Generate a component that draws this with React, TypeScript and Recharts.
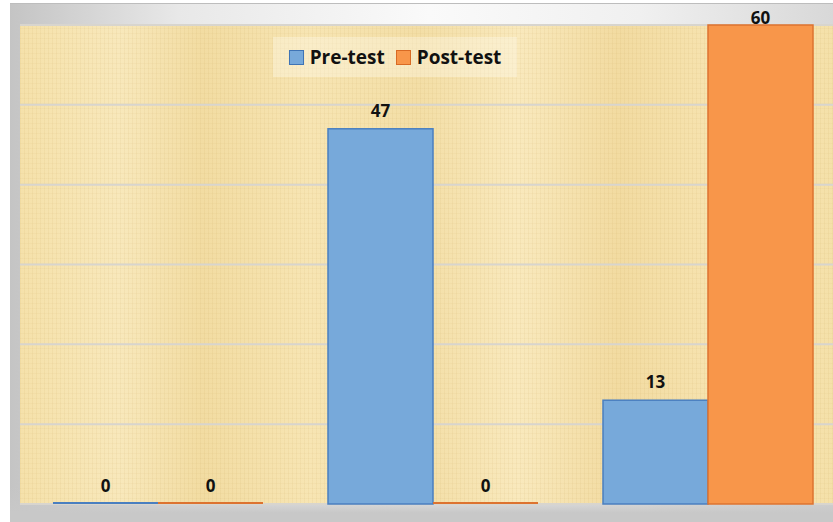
import React from 'react';
import { BarChart, Bar, XAxis, YAxis, CartesianGrid, LabelList, Legend } from 'recharts';

const categories = ['Group 1', 'Group 2', 'Group 3'];
const preTest = [0, 47, 13];
const postTest = [0, 0, 60];
const yTicks = [0, 10, 20, 30, 40, 50, 60];

const data = categories.map((c, i) => ({ name: c, pre: preTest[i], post: postTest[i] }));

const BarShape = (props: any) => {
  const { x, y, width, height, fill, stroke } = props;
  if (!height || Math.abs(height) < 1) {
    return <line x1={x} x2={x + width} y1={y - 1} y2={y - 1} stroke={stroke} strokeWidth={2} />;
  }
  return <rect x={x} y={y} width={width} height={height} fill={fill} stroke={stroke} strokeWidth={1.5} />;
};

const LegendContent = () => (
  <div
    style={{
      width: 244,
      height: 40,
      background: 'rgba(255,252,240,0.35)',
      display: 'flex',
      alignItems: 'center',
      justifyContent: 'center',
      fontFamily: '"Open Sans", sans-serif',
      fontWeight: 700,
      fontSize: 19,
      color: '#111',
    }}
  >
    <span style={{ display: 'inline-block', width: 13, height: 13, background: '#77a9da', border: '1.5px solid #3f74b5', marginRight: 6 }} />
    <span style={{ marginRight: 11 }}>Pre-test</span>
    <span style={{ display: 'inline-block', width: 13, height: 13, background: '#f8964a', border: '1.5px solid #d86a24', marginRight: 6 }} />
    <span>Post-test</span>
  </div>
);

const ValueLabel = (props: any) => {
  const { x, y, width, value } = props;
  const ty = Math.max(y - 12, 24);
  return (
    <text
      x={x + width / 2}
      y={ty}
      textAnchor="middle"
      style={{ fontFamily: '"Open Sans", sans-serif', fontWeight: 700, fontSize: 17, fill: '#111' }}
    >
      {value}
    </text>
  );
};

export default function App() {
  return (
    <div style={{ position: 'fixed', left: 0, top: 0, width: 833, height: 522, overflow: 'hidden', background: '#fff' }}>
      <div
        style={{
          position: 'absolute',
          left: 10,
          top: 3,
          width: 840,
          height: 519,
          borderTop: '1px solid #bdbdbd',
          background:
            'linear-gradient(to bottom, rgba(205,205,205,0) 0%, rgba(205,205,205,0) 93%, rgba(200,200,200,1) 98%), linear-gradient(to right, #c4c4c4 0%, #e8e8e8 20%, #fafafa 50%, #f0f0f0 75%, #d6d6d6 100%)',
        }}
      />
      <div
        style={{
          position: 'absolute',
          left: 20,
          top: 25,
          width: 830,
          height: 479,
          background:
            'repeating-linear-gradient(90deg, rgba(190,150,70,0.08) 0px, rgba(190,150,70,0.08) 1px, rgba(255,255,255,0) 1px, rgba(255,255,255,0) 4px), repeating-linear-gradient(0deg, rgba(190,150,70,0.06) 0px, rgba(190,150,70,0.06) 1px, rgba(255,255,255,0) 1px, rgba(255,255,255,0) 5px), linear-gradient(90deg, #f5e1aa 0%, #f8e8bb 12%, #f2dca2 22%, #f7e5b3 35%, #f3dea6 48%, #f9e9bd 60%, #f2dba1 72%, #f7e4b1 85%, #f4e0a8 100%)',
        }}
      />
      <div style={{ position: 'absolute', left: 0, top: 0 }}>
        <BarChart
          width={860}
          height={522}
          data={data}
          margin={{ top: 25, left: 20, right: 15, bottom: 18 }}
          barCategoryGap="12%"
          barGap={0}
        >
          <CartesianGrid horizontal={true} vertical={false} stroke="#d8d5ce" strokeWidth={2} />
          <XAxis dataKey="name" hide />
          <YAxis hide domain={[0, 60]} ticks={yTicks} />
          <Legend
            layout="horizontal"
            verticalAlign="middle"
            align="center"
            content={<LegendContent />}
            wrapperStyle={{ position: 'absolute', top: 37, left: 273, width: 244, height: 40 }}
          />
          <Bar dataKey="pre" name="Pre-test" fill="#77a9da" stroke="#4a7fc0" isAnimationActive={false} shape={<BarShape />}>
            <LabelList dataKey="pre" content={<ValueLabel />} />
          </Bar>
          <Bar dataKey="post" name="Post-test" fill="#f8964a" stroke="#dd7330" isAnimationActive={false} shape={<BarShape />}>
            <LabelList dataKey="post" content={<ValueLabel />} />
          </Bar>
        </BarChart>
      </div>
    </div>
  );
}
